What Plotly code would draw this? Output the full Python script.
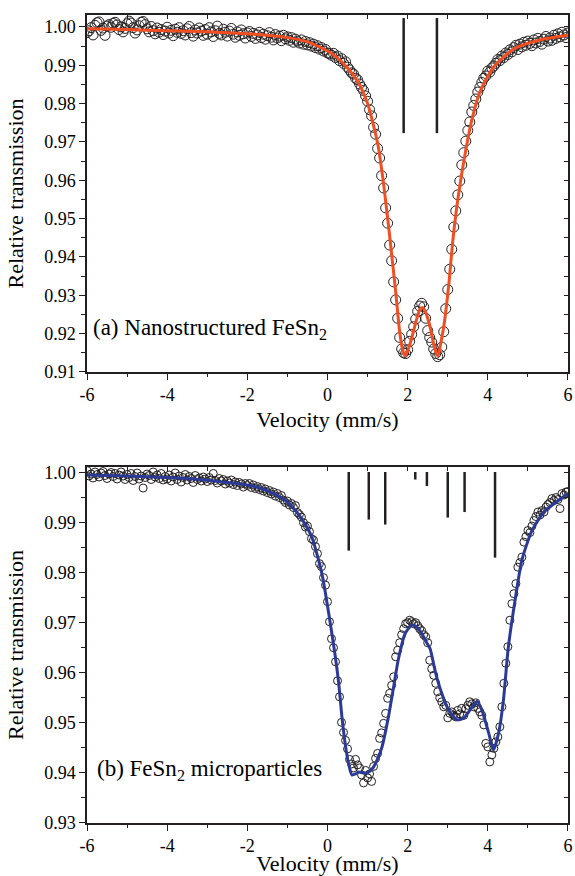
import numpy as np
import plotly.graph_objects as go

# ---------------- data ----------------
VELOCITY = np.round(np.linspace(-6, 6, 241), 3)  # velocity channels (mm/s)

TOP_T = [
    0.9985, 0.9990, 0.9998, 0.9979, 1.0004, 1.0011, 1.0013, 0.9991, 0.9997, 0.9978,
    1.0002, 1.0006, 0.9999, 1.0009, 1.0012, 1.0005, 0.9993, 1.0000, 0.9987, 0.9996,
    1.0008, 1.0015, 1.0010, 0.9998, 0.9984, 0.9992, 1.0003, 1.0012, 1.0014, 1.0006,
    0.9995, 0.9987, 1.0001, 0.9990, 0.9982, 0.9997, 0.9986, 0.9993, 0.9980, 0.9989,
    0.9999, 0.9984, 0.9991, 0.9977, 0.9994, 0.9986, 0.9998, 0.9983, 0.9990, 0.9979,
    0.9995, 1.0001, 0.9985, 0.9976, 0.9992, 0.9984, 0.9997, 0.9989, 0.9978, 0.9993,
    0.9981, 0.9998, 0.9987, 0.9975, 0.9990, 1.0002, 0.9983, 0.9979, 0.9994, 0.9986,
    0.9976, 0.9989, 0.9996, 0.9981, 0.9973, 0.9987, 0.9978, 0.9992, 0.9982, 0.9971,
    0.9984,
    0.9988, 0.9975, 0.9983, 0.9970, 0.9979, 0.9986, 0.9972, 0.9981, 0.9968, 0.9977,
    0.9985, 0.9973, 0.9966, 0.9980, 0.9971, 0.9976, 0.9964, 0.9978, 0.9969, 0.9974,
    0.9965, 0.9972, 0.9960, 0.9968, 0.9963, 0.9958, 0.9966, 0.9955, 0.9962, 0.9953,
    0.9959, 0.9950, 0.9955, 0.9946, 0.9951, 0.9942, 0.9946, 0.9937, 0.9941, 0.9932,
    0.9930, 0.9926, 0.9931, 0.9920, 0.9924, 0.9912, 0.9917, 0.9905, 0.9909, 0.9895,
    0.9888, 0.9880, 0.9877, 0.9866, 0.9862, 0.9851, 0.9842, 0.9834, 0.9820, 0.9806,
    0.9784, 0.9768, 0.9738, 0.9720, 0.9683, 0.9658, 0.9612, 0.9580, 0.9528, 0.9488,
    0.9431, 0.9390, 0.9335, 0.9288, 0.9240, 0.9190, 0.9160, 0.9150,
    0.9148, 0.9158, 0.9180, 0.9198, 0.9218, 0.9238, 0.9258, 0.9272, 0.9279, 0.9270,
    0.9240, 0.9208, 0.9190, 0.9178, 0.9160, 0.9148, 0.9140, 0.9145, 0.9165, 0.9205,
    0.9265, 0.9315, 0.9368, 0.9420, 0.9478, 0.9520, 0.9562, 0.9598, 0.9640, 0.9672,
    0.9702, 0.9730, 0.9752, 0.9778, 0.9795, 0.9812, 0.9830, 0.9842, 0.9855, 0.9866,
    0.9872, 0.9885,
    0.9882, 0.9893, 0.9898, 0.9905, 0.9915, 0.9912, 0.9924, 0.9920, 0.9932, 0.9928,
    0.9940, 0.9935, 0.9946, 0.9952, 0.9941, 0.9955, 0.9948, 0.9960, 0.9952, 0.9963,
    0.9957, 0.9951, 0.9966, 0.9958, 0.9970, 0.9962, 0.9955, 0.9968, 0.9975, 0.9963,
    0.9971, 0.9965, 0.9978, 0.9970, 0.9982, 0.9974, 0.9986, 0.9979, 0.9972, 0.9984,
]

BOT_T = [
    1.0004, 0.9993, 0.9997, 0.9989, 1.0001, 0.9996, 0.9991, 0.9999, 1.0002, 0.9994,
    0.9988, 0.9997, 1.0000, 0.9992, 0.9998, 0.9987, 0.9995, 1.0001, 0.9993, 0.9986,
    0.9996, 0.9990, 0.9998, 0.9984, 0.9992, 0.9999, 0.9987, 0.9993, 0.9969, 0.9990,
    0.9997, 0.9994, 0.9986, 1.0001, 0.9991, 0.9995, 0.9988, 0.9998, 0.9985, 0.9992,
    0.9987, 0.9995, 0.9983, 0.9991, 0.9999, 0.9986, 0.9993, 0.9981, 0.9990, 0.9996,
    0.9985, 0.9992, 0.9988, 0.9980, 0.9994, 0.9986, 0.9989, 0.9983, 0.9991, 0.9987,
    0.9982, 0.9990, 0.9985, 0.9998, 0.9984, 0.9979, 0.9988, 0.9983, 0.9986, 0.9977,
    0.9983, 0.9979, 0.9985, 0.9976, 0.9981, 0.9974, 0.9980, 0.9977, 0.9971, 0.9978,
    0.9974,
    0.9978, 0.9970, 0.9975, 0.9968, 0.9972, 0.9966, 0.9970, 0.9963, 0.9967, 0.9960,
    0.9964, 0.9957, 0.9961, 0.9953, 0.9958, 0.9950, 0.9954, 0.9945, 0.9940, 0.9943,
    0.9935, 0.9938, 0.9930, 0.9934, 0.9920, 0.9916, 0.9911, 0.9900, 0.9891, 0.9893,
    0.9882, 0.9868, 0.9865, 0.9852, 0.9838, 0.9818, 0.9812, 0.9790, 0.9775, 0.9742,
    0.9702, 0.9668, 0.9650, 0.9622, 0.9584, 0.9552, 0.9501, 0.9481, 0.9465, 0.9448,
    0.9427, 0.9418, 0.9410, 0.9427, 0.9416, 0.9410, 0.9396, 0.9380, 0.9405, 0.9390,
    0.9398, 0.9383, 0.9413, 0.9429, 0.9439, 0.9469, 0.9480, 0.9499, 0.9519, 0.9549,
    0.9559, 0.9575, 0.9592, 0.9632, 0.9645, 0.9660, 0.9676, 0.9688, 0.9698, 0.9700,
    0.9705, 0.9702, 0.9698, 0.9700, 0.9694, 0.9688, 0.9684, 0.9676, 0.9672, 0.9660,
    0.9625, 0.9608, 0.9595, 0.9579, 0.9562, 0.9550, 0.9542, 0.9532, 0.9535, 0.9510,
    0.9519, 0.9522, 0.9515, 0.9512, 0.9525, 0.9518, 0.9529, 0.9515, 0.9528, 0.9535,
    0.9542, 0.9538, 0.9532, 0.9540, 0.9529, 0.9522, 0.9515, 0.9496, 0.9459, 0.9452,
    0.9422, 0.9436, 0.9449, 0.9462, 0.9472, 0.9492, 0.9532, 0.9579, 0.9619, 0.9652,
    0.9705, 0.9738, 0.9758, 0.9778, 0.9811, 0.9820, 0.9831, 0.9861, 0.9872, 0.9884,
    0.9880, 0.9893, 0.9904, 0.9912, 0.9921, 0.9915, 0.9924, 0.9921, 0.9931, 0.9936,
    0.9940, 0.9948, 0.9944, 0.9950, 0.9946, 0.9928, 0.9958, 0.9955, 0.9961, 0.9962,
]

TOP_FIT_X = [-6, -5, -4, -3, -2, -1.5, -1, -0.5, 0, 0.25, 0.5, 0.75, 1.0, 1.25, 1.4,
             1.55, 1.7, 1.8, 1.87, 1.925, 2.0, 2.1, 2.2, 2.3, 2.37, 2.45, 2.55, 2.65,
             2.71, 2.76, 2.82, 2.9, 3.03, 3.12, 3.25, 3.45, 3.62, 3.825, 4.15, 4.65,
             5.3, 6]
TOP_FIT_Y = [0.9995, 0.9993, 0.9990, 0.9987, 0.9982, 0.9978, 0.9972, 0.9961, 0.9937,
             0.9919, 0.9893, 0.9858, 0.9800, 0.9697, 0.9590, 0.9455, 0.9310, 0.9205,
             0.9160, 0.9142, 0.9155, 0.9188, 0.9228, 0.9262, 0.9268, 0.9255, 0.9222,
             0.9172, 0.9150, 0.9142, 0.9172, 0.9218, 0.9332, 0.9436, 0.9549, 0.9679,
             0.9766, 0.9836, 0.9896, 0.9943, 0.9966, 0.9978]

BOT_FIT_X = [-6, -5, -4, -3.2, -2.5, -2, -1.72, -1.4, -1.05, -0.8, -0.6, -0.39, -0.14,
             0.03, 0.19, 0.28, 0.36, 0.44, 0.525, 0.61, 0.7, 0.78, 0.88, 0.98, 1.07,
             1.15, 1.25, 1.36, 1.52, 1.65, 1.77, 1.94, 2.10, 2.22, 2.35, 2.46, 2.56,
             2.69, 2.85, 3.02, 3.23, 3.39, 3.56, 3.73, 3.85, 4.02, 4.14, 4.27, 4.39,
             4.51, 4.68, 4.85, 5.1, 5.43, 5.76, 6.0]
BOT_FIT_Y = [0.9995, 0.9993, 0.9990, 0.9986, 0.9980, 0.9975, 0.9970, 0.9960, 0.9944,
             0.9924, 0.9902, 0.9871, 0.9798, 0.9719, 0.9635, 0.9579, 0.9512, 0.9459,
             0.9419, 0.9396, 0.9398, 0.9402, 0.9400, 0.9400, 0.9404, 0.9412, 0.9428,
             0.9452, 0.9512, 0.9572, 0.9628, 0.9679, 0.9695, 0.9692, 0.9679, 0.9662,
             0.9648, 0.9602, 0.9559, 0.9526, 0.9506, 0.9509, 0.9526, 0.9543, 0.9526,
             0.9480, 0.9446, 0.9480, 0.9546, 0.9650, 0.9745, 0.9825, 0.9884, 0.9924,
             0.9944, 0.9958]

# stick diagrams (line positions)
STICK_A_POS = [1.90, 2.73]
STICK_A_TOP = [1.0023, 1.0023]
STICK_A_BOTTOM = [0.9723, 0.9723]

STICK_B_POS = [0.53, 1.03, 1.44, 2.19, 2.48, 3.00, 3.42, 4.18]
STICK_B_TOP = [1.0001] * 8
STICK_B_BOTTOM = [0.9844, 0.9906, 0.9896, 0.9986, 0.9973, 0.9910, 0.9921, 0.9830]

X_TICKS = [-6, -4, -2, 0, 2, 4, 6]
X_TICK_LABELS = ["-6", "-4", "-2", "0", "2", "4", "6"]

LABEL_A = "(a) Nanostructured FeSn<sub>2</sub>"
LABEL_B = "(b) FeSn<sub>2</sub> microparticles"
X_TITLE = "Velocity (mm/s)"
Y_TITLE = "Relative transmission"

assert len(TOP_T) == len(VELOCITY), len(TOP_T)
assert len(BOT_T) == len(VELOCITY), len(BOT_T)
assert len(TOP_FIT_X) == len(TOP_FIT_Y)
assert len(BOT_FIT_X) == len(BOT_FIT_Y)

# ---------------- styles ----------------
FONT = "Liberation Serif"
INK = "#231f20"
ORANGE = "#f04e23"
BLUE = "#2b3a97"

XR = [-6.0002, 6.0002]
YR_A = [0.91, 1.0031]
YR_B = [0.93, 1.0011]


def sticks(pos, top, bottom):
    xs, ys = [], []
    for p, t, b in zip(pos, top, bottom):
        xs += [p, p, None]
        ys += [t, b, None]
    return xs, ys


fig = go.Figure()

# panel (a)
fig.add_trace(go.Scatter(x=VELOCITY, y=TOP_T, mode="markers", xaxis="x", yaxis="y",
                         marker=dict(symbol="circle-open", size=10, color=INK,
                                     line=dict(width=1, color=INK)),
                         showlegend=False))
fig.add_trace(go.Scatter(x=TOP_FIT_X, y=TOP_FIT_Y, mode="lines", xaxis="x", yaxis="y",
                         line=dict(color=ORANGE, width=3, shape="spline", smoothing=0.6),
                         showlegend=False))
sx, sy = sticks(STICK_A_POS, STICK_A_TOP, STICK_A_BOTTOM)
fig.add_trace(go.Scatter(x=sx, y=sy, mode="lines", xaxis="x", yaxis="y",
                         line=dict(color=INK, width=2.5), showlegend=False))

# panel (b)
fig.add_trace(go.Scatter(x=VELOCITY, y=BOT_T, mode="markers", xaxis="x2", yaxis="y2",
                         marker=dict(symbol="circle-open", size=8, color=INK,
                                     line=dict(width=1, color=INK)),
                         showlegend=False))
fig.add_trace(go.Scatter(x=BOT_FIT_X, y=BOT_FIT_Y, mode="lines", xaxis="x2", yaxis="y2",
                         line=dict(color=BLUE, width=3, shape="spline", smoothing=0.6),
                         showlegend=False))
sx, sy = sticks(STICK_B_POS, STICK_B_TOP, STICK_B_BOTTOM)
fig.add_trace(go.Scatter(x=sx, y=sy, mode="lines", xaxis="x2", yaxis="y2",
                         line=dict(color=INK, width=2.5), showlegend=False))

# empty traces that carry the mirror (inward tick) axes
fig.add_trace(go.Scatter(x=[None], y=[None], xaxis="x3", yaxis="y3", showlegend=False))
fig.add_trace(go.Scatter(x=[None], y=[None], xaxis="x4", yaxis="y4", showlegend=False))

tickfont = dict(family=FONT, size=18, color="black")
titlefont = dict(family=FONT, size=22, color="black")


def xaxis_main(anchor, standoff):
    return dict(anchor=anchor, domain=[0, 1], range=XR, tickvals=X_TICKS,
                ticktext=X_TICK_LABELS, ticks="outside", ticklen=6, tickwidth=1.3,
                tickcolor=INK, showline=True, linecolor=INK, linewidth=1.5,
                mirror=True, showgrid=False, zeroline=False, tickfont=tickfont,
                ticklabelstandoff=0, ticklabeloverflow="allow", automargin=False,
                minor=dict(dtick=1, tick0=0, ticks="outside", ticklen=3,
                           tickwidth=1.2, tickcolor=INK),
                title=dict(text=X_TITLE, font=titlefont, standoff=standoff))


def yaxis_main(anchor, domain, rng):
    return dict(anchor=anchor, domain=domain, range=rng, dtick=0.01, tick0=0,
                tickformat=".2f", ticks="outside", ticklen=6, tickwidth=1.3,
                tickcolor=INK, showline=True, linecolor=INK, linewidth=1.5,
                mirror=True, showgrid=False, zeroline=False, tickfont=tickfont,
                ticklabelstandoff=0, ticklabeloverflow="allow", automargin=False,
                minor=dict(dtick=0.005, tick0=0, ticks="outside", ticklen=4,
                           tickwidth=1.2, tickcolor=INK),
                title=dict(text=Y_TITLE, font=titlefont, standoff=14))


def xaxis_mirror(overlay, anchor):
    return dict(overlaying=overlay, anchor=anchor, side="top", range=XR,
                dtick=1, tick0=0, ticks="inside", ticklen=4, tickwidth=1.2,
                tickcolor=INK, showticklabels=False, showline=False,
                showgrid=False, zeroline=False, automargin=False)


def yaxis_mirror(overlay, anchor, rng):
    return dict(overlaying=overlay, anchor=anchor, side="right", range=rng,
                dtick=0.005, tick0=0, ticks="inside", ticklen=4, tickwidth=1.2,
                tickcolor=INK, showticklabels=False, showline=False,
                showgrid=False, zeroline=False, automargin=False)


fig.update_layout(
    width=575, height=876,
    margin=dict(l=87, r=7, t=15, b=53),
    paper_bgcolor="white", plot_bgcolor="white",
    font=dict(family=FONT, color="black"),
    xaxis=xaxis_main("y", 7),
    yaxis=yaxis_main("x", [0.5582, 1], YR_A),
    xaxis2=xaxis_main("y2", 10),
    yaxis2=yaxis_main("x2", [0, 0.4406], YR_B),
    xaxis3=xaxis_mirror("x", "y"),
    yaxis3=yaxis_mirror("y", "x", YR_A),
    xaxis4=xaxis_mirror("x2", "y2"),
    yaxis4=yaxis_mirror("y2", "x2", YR_B),
    annotations=[
        dict(text=LABEL_A, x=-5.9, y=0.9212, xref="x", yref="y", xanchor="left",
             yanchor="middle", showarrow=False,
             font=dict(family=FONT, size=23, color="black")),
        dict(text=LABEL_B, x=-5.8, y=0.9405, xref="x2", yref="y2", xanchor="left",
             yanchor="middle", showarrow=False,
             font=dict(family=FONT, size=23, color="black")),
    ],
)

fig.write_html("out.html", config={"displayModeBar": False},
               post_script="document.body.style.margin='0';"
                           "document.body.style.overflow='hidden';")
